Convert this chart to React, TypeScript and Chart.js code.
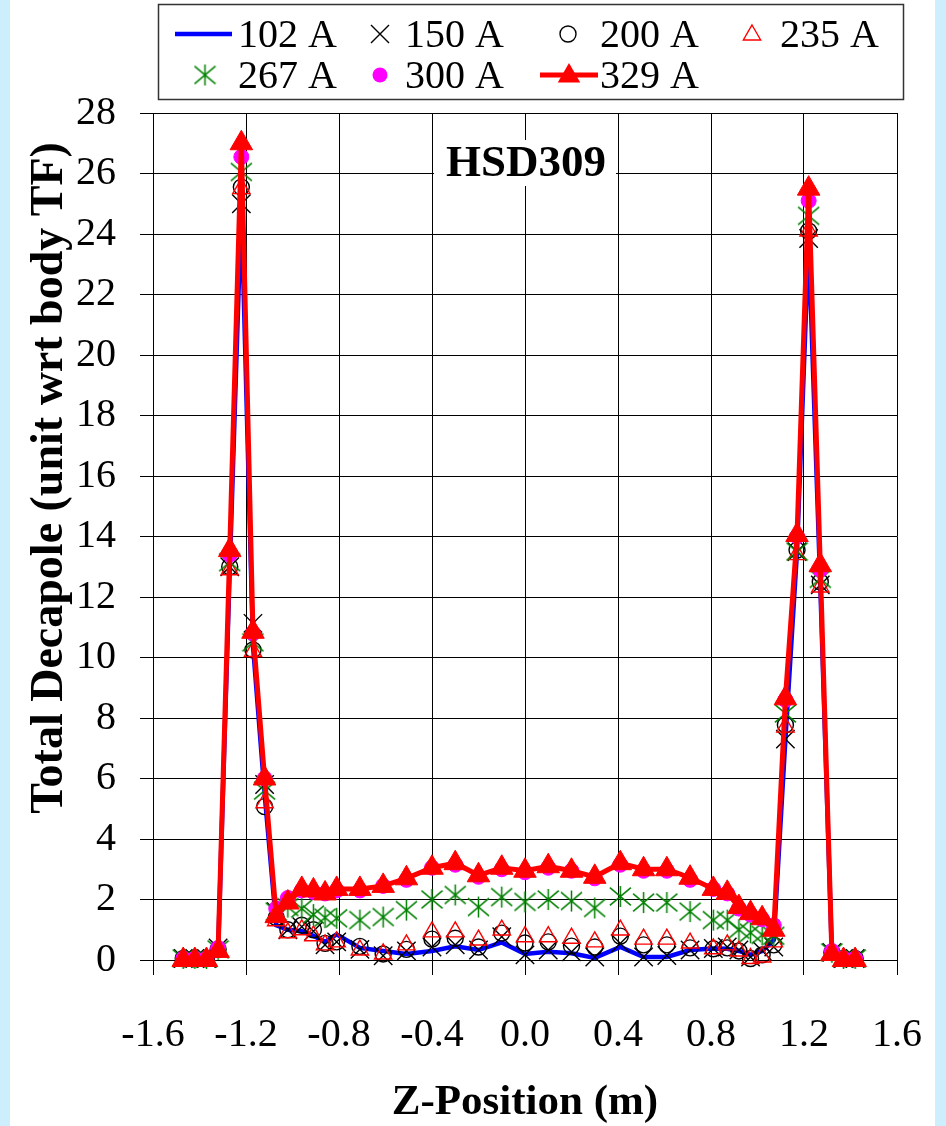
import React, { useEffect, useRef } from 'react';
import { Chart, registerables } from 'chart.js';

Chart.register(...registerables);

const FONT = "'Liberation Serif', 'Times New Roman', serif";

const zPositions = [
  -1.47, -1.42, -1.37, -1.32, -1.27, -1.22, -1.17, -1.12, -1.07, -1.02, -0.96, -0.91, -0.86, -0.81,
  -0.71, -0.61, -0.51, -0.40, -0.30, -0.20, -0.10, 0.00, 0.10, 0.20, 0.30, 0.41, 0.51, 0.61, 0.71,
  0.81, 0.87, 0.92, 0.97, 1.02, 1.07, 1.12, 1.17, 1.22, 1.27, 1.32, 1.37, 1.42,
];

const current102 = [
  0.0, 0.0, 0.0, 0.3, 12.9, 25.0, 10.4, 5.5, 1.15, 1.0, 0.95, 0.8, 0.6, 0.85,
  0.4, 0.3, 0.2, 0.3, 0.45, 0.33, 0.58, 0.2, 0.27, 0.22, 0.07, 0.43, 0.1, 0.1, 0.33,
  0.38, 0.37, 0.3, 0.17, 0.3, 0.66, 7.3, 13.5, 23.8, 12.4, 0.2, 0.0, 0.0,
];
const current150 = [
  0.05, 0.05, 0.05, 0.4, 13.0, 25.0, 11.13, 5.8, 1.6, 1.0, 1.1, 0.95, 0.5, 0.6,
  0.35, 0.14, 0.3, 0.43, 0.5, 0.33, 0.77, 0.17, 0.33, 0.27, 0.1, 0.55, 0.1, 0.15, 0.33,
  0.38, 0.43, 0.33, 0.1, 0.3, 0.43, 7.3, 13.5, 23.85, 12.4, 0.25, 0.05, 0.05,
];
const current200 = [
  0.05, 0.05, 0.05, 0.35, 13.0, 25.55, 10.25, 5.07, 1.4, 1.0, 1.15, 1.0, 0.55, 0.6,
  0.45, 0.2, 0.35, 0.69, 0.72, 0.43, 0.89, 0.56, 0.6, 0.46, 0.43, 0.79, 0.5, 0.5, 0.4,
  0.37, 0.4, 0.3, 0.05, 0.17, 0.5, 7.77, 13.55, 24.1, 12.5, 0.25, 0.05, 0.05,
];
const current235 = [
  0.02, 0.02, 0.02, 0.3, 12.9, 25.5, 10.2, 5.2, 1.3, 0.9, 1.0, 0.8, 0.5, 0.6,
  0.33, 0.2, 0.5, 0.93, 0.93, 0.66, 0.99, 0.77, 0.77, 0.72, 0.6, 0.99, 0.69, 0.69, 0.56,
  0.37, 0.5, 0.3, 0.05, 0.1, 0.6, 7.7, 13.4, 24.1, 12.33, 0.2, 0.02, 0.02,
];
const current267 = [
  0.05, 0.05, 0.05, 0.35, 13.15, 26.05, 10.5, 5.6, 1.6, 1.75, 1.7, 1.5, 1.4, 1.38,
  1.32, 1.42, 1.65, 2.0, 2.15, 1.75, 2.08, 1.92, 2.0, 1.95, 1.72, 2.1, 1.9, 1.9, 1.6,
  1.32, 1.32, 1.0, 0.9, 0.83, 0.8, 8.15, 13.5, 24.6, 12.6, 0.25, 0.05, 0.05,
];
const current300 = [
  0.05, 0.05, 0.05, 0.4, 13.4, 26.55, 10.8, 6.0, 1.7, 2.05, 2.3, 2.25, 2.2, 2.3,
  2.3, 2.45, 2.65, 3.05, 3.15, 2.75, 3.0, 2.9, 3.05, 2.95, 2.7, 3.15, 2.95, 2.95, 2.65,
  2.35, 2.2, 1.7, 1.5, 1.35, 1.15, 8.6, 14.0, 25.1, 12.9, 0.3, 0.05, 0.05,
];
const current329 = [
  0.0, 0.0, 0.0, 0.3, 13.55, 27.0, 10.85, 6.0, 1.45, 1.9, 2.35, 2.3, 2.2, 2.35,
  2.35, 2.45, 2.7, 3.05, 3.2, 2.8, 3.05, 2.95, 3.1, 2.95, 2.75, 3.2, 3.0, 3.0, 2.72,
  2.35, 2.22, 1.75, 1.55, 1.38, 1.0, 8.65, 14.05, 25.5, 13.05, 0.2, 0.0, 0.0,
];

const seriesLabels = ['102 A', '150 A', '200 A', '235 A', '267 A', '300 A', '329 A'];
const chartTitle = 'HSD309';
const xTitle = 'Z-Position (m)';
const yTitle = 'Total Decapole (unit wrt body TF)';

function makeAsterisk(color: string, size: number, lw: number) {
  const c = document.createElement('canvas');
  c.width = size;
  c.height = size;
  const ctx = c.getContext('2d')!;
  ctx.strokeStyle = color;
  ctx.lineWidth = lw;
  const m = size / 2;
  const r = size / 2 - 1;
  ctx.beginPath();
  ctx.moveTo(m, m - r);
  ctx.lineTo(m, m + r);
  ctx.moveTo(m - r, m - r * 0.85);
  ctx.lineTo(m + r, m + r * 0.85);
  ctx.moveTo(m + r, m - r * 0.85);
  ctx.lineTo(m - r, m + r * 0.85);
  ctx.stroke();
  return c;
}

function triPath(ctx: CanvasRenderingContext2D, x: number, y: number, r: number) {
  const T = (2 * Math.PI) / 3;
  let a = 0;
  ctx.beginPath();
  ctx.moveTo(x + Math.sin(a) * r, y - Math.cos(a) * r);
  a += T;
  ctx.lineTo(x + Math.sin(a) * r, y - Math.cos(a) * r);
  a += T;
  ctx.lineTo(x + Math.sin(a) * r, y - Math.cos(a) * r);
  ctx.closePath();
}

export default function App() {
  const ref = useRef<HTMLCanvasElement>(null);

  useEffect(() => {
    const canvas = ref.current!;
    const asterisk = makeAsterisk('#008000', 23, 1.5);
    const pts = (arr: number[]) => zPositions.map((x, i) => ({ x, y: arr[i] }));

    const datasets: any[] = [
      {
        label: seriesLabels[0], data: pts(current102), showLine: true,
        borderColor: '#0000ff', borderWidth: 4.5, pointRadius: 0, order: 6,
      },
      {
        label: seriesLabels[1], data: pts(current150), showLine: false,
        pointStyle: 'crossRot', pointRadius: 13, pointBorderColor: '#000', pointBorderWidth: 1.4, order: 5,
      },
      {
        label: seriesLabels[2], data: pts(current200), showLine: false,
        pointStyle: 'circle', pointRadius: 8, pointBorderColor: '#000', pointBackgroundColor: 'rgba(0,0,0,0)', pointBorderWidth: 1.4, order: 4,
      },
      {
        label: seriesLabels[3], data: pts(current235), showLine: false,
        pointStyle: 'triangle', pointRadius: 10, pointBorderColor: '#ff0000', pointBackgroundColor: 'rgba(0,0,0,0)', pointBorderWidth: 1.4, order: 3,
      },
      {
        label: seriesLabels[4], data: pts(current267), showLine: false,
        pointStyle: asterisk, pointRadius: 11, order: 2,
      },
      {
        label: seriesLabels[5], data: pts(current300), showLine: false,
        pointStyle: 'circle', pointRadius: 7.5, pointBorderColor: '#ff00ff', pointBackgroundColor: '#ff00ff', pointBorderWidth: 1, order: 1,
      },
      {
        label: seriesLabels[6], data: pts(current329), showLine: true,
        borderColor: '#ff0000', borderWidth: 5, pointStyle: 'triangle', pointRadius: 13,
        pointBorderColor: '#ff0000', pointBackgroundColor: '#ff0000', pointBorderWidth: 1, order: 0,
      },
    ].map((d) => ({ ...d, clip: false, tension: 0, pointHoverRadius: d.pointRadius }));

    const bgPlugin = {
      id: 'bg',
      beforeDraw(chart: any) {
        const ctx = chart.ctx;
        ctx.save();
        ctx.fillStyle = '#cdeefc';
        ctx.fillRect(0, 0, chart.width, chart.height);
        ctx.fillStyle = '#ffffff';
        ctx.fillRect(10, 0, 925, chart.height);
        ctx.restore();
      },
    };

    const decorPlugin = {
      id: 'decor',
      beforeDatasetsDraw(chart: any) {
        const ctx = chart.ctx;
        const cx = (chart.chartArea.left + chart.chartArea.right) / 2;
        ctx.save();
        ctx.fillStyle = '#ffffff';
        ctx.fillRect(cx - 91, 140, 182, 46);
        ctx.fillStyle = '#000';
        ctx.font = `bold 45px ${FONT}`;
        ctx.textAlign = 'center';
        ctx.textBaseline = 'middle';
        ctx.fillText(chartTitle, cx + 1, 164);
        ctx.restore();
      },
      afterDraw(chart: any) {
        const ctx = chart.ctx;
        ctx.save();
        // y axis title
        ctx.translate(50, 478);
        ctx.rotate(-Math.PI / 2);
        ctx.fillStyle = '#000';
        ctx.font = `bold 46px ${FONT}`;
        ctx.textAlign = 'center';
        ctx.textBaseline = 'middle';
        ctx.fillText(yTitle, 0, 0);
        ctx.restore();

        // legend
        ctx.save();
        ctx.strokeStyle = '#333';
        ctx.lineWidth = 1.5;
        ctx.strokeRect(158.5, 4.5, 745, 95);
        ctx.font = `40px ${FONT}`;
        ctx.fillStyle = '#000';
        ctx.textAlign = 'left';
        ctx.textBaseline = 'middle';
        const r1 = 36;
        const r2 = 77;
        const tx = [238, 405, 600, 780];
        ctx.fillText(seriesLabels[0], tx[0], r1);
        ctx.fillText(seriesLabels[1], tx[1], r1);
        ctx.fillText(seriesLabels[2], tx[2], r1);
        ctx.fillText(seriesLabels[3], tx[3], r1);
        ctx.fillText(seriesLabels[4], tx[0], r2);
        ctx.fillText(seriesLabels[5], tx[1], r2);
        ctx.fillText(seriesLabels[6], tx[2], r2);

        // 102 A line
        ctx.strokeStyle = '#0000ff';
        ctx.lineWidth = 4.5;
        ctx.beginPath();
        ctx.moveTo(175, r1 - 2);
        ctx.lineTo(232, r1 - 2);
        ctx.stroke();
        // 150 A cross
        ctx.strokeStyle = '#000';
        ctx.lineWidth = 1.4;
        const h = 9;
        ctx.beginPath();
        ctx.moveTo(380 - h, r1 - 2 - h);
        ctx.lineTo(380 + h, r1 - 2 + h);
        ctx.moveTo(380 + h, r1 - 2 - h);
        ctx.lineTo(380 - h, r1 - 2 + h);
        ctx.stroke();
        // 200 A circle
        ctx.beginPath();
        ctx.arc(568, r1 - 2, 8, 0, Math.PI * 2);
        ctx.stroke();
        // 235 A triangle
        ctx.strokeStyle = '#ff0000';
        triPath(ctx, 752, r1 - 1, 10);
        ctx.stroke();
        // 267 A asterisk
        ctx.drawImage(asterisk, 205 - 11.5, r2 - 2 - 11.5);
        // 300 A dot
        ctx.fillStyle = '#ff00ff';
        ctx.beginPath();
        ctx.arc(380, r2 - 2, 7.5, 0, Math.PI * 2);
        ctx.fill();
        // 329 A line + triangle
        ctx.strokeStyle = '#ff0000';
        ctx.lineWidth = 5;
        ctx.beginPath();
        ctx.moveTo(540, r2 - 2);
        ctx.lineTo(598, r2 - 2);
        ctx.stroke();
        ctx.fillStyle = '#ff0000';
        triPath(ctx, 569, r2 - 1, 13);
        ctx.fill();
        ctx.restore();
      },
    };

    const tickFont = { family: FONT, size: 40 };

    const chart = new Chart(canvas, {
      type: 'scatter',
      data: { datasets },
      options: {
        responsive: false,
        animation: false,
        devicePixelRatio: 1,
        events: [],
        layout: { padding: { top: 113, right: 49, left: 0, bottom: 0 } },
        plugins: { legend: { display: false }, tooltip: { enabled: false }, title: { display: false } },
        scales: {
          x: {
            type: 'linear',
            min: -1.6,
            max: 1.6,
            ticks: {
              stepSize: 0.4,
              autoSkip: false,
              maxRotation: 0,
              minRotation: 0,
              color: '#000',
              font: tickFont,
              padding: 36,
              callback: (v: any) => (Math.abs(v) < 1e-9 ? '0.0' : Number(v).toFixed(1)),
            },
            grid: { color: '#000', lineWidth: 1, tickLength: 15, drawTicks: true },
            border: { color: '#000', width: 1 },
            title: {
              display: true,
              text: xTitle,
              color: '#000',
              font: { family: FONT, size: 43, weight: 'bold', lineHeight: 1 },
              padding: { top: 0, bottom: 2 },
            },
            afterFit: (s: any) => {
              s.height = 166;
              s.paddingLeft = 0;
              s.paddingRight = 0;
            },
          },
          y: {
            type: 'linear',
            min: 0,
            max: 28,
            ticks: { stepSize: 2, color: '#000', font: tickFont, padding: 24 },
            grid: { color: '#000', lineWidth: 1, tickLength: 13, drawTicks: true },
            border: { color: '#000', width: 1 },
            afterFit: (s: any) => {
              s.width = 153;
              s.paddingTop = 0;
              s.paddingBottom = 0;
            },
          },
        },
      } as any,
      plugins: [bgPlugin, decorPlugin],
    });

    return () => chart.destroy();
  }, []);

  return (
    <div style={{ position: 'absolute', left: 0, top: 0, width: 946, height: 1126 }}>
      <canvas ref={ref} width={946} height={1126} style={{ display: 'block' }} />
    </div>
  );
}
